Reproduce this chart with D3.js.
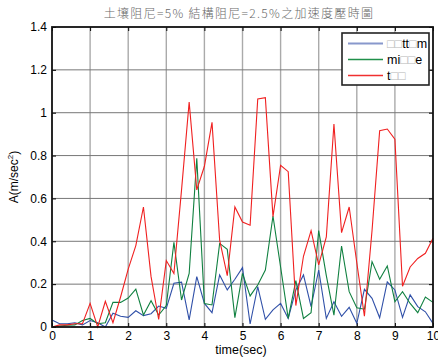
<!DOCTYPE html>
<html>
<head>
<meta charset="utf-8">
<script src="https://cdn.jsdelivr.net/npm/d3@7"></script>
<style>
    body { margin: 0; background: #fff; }
    svg { display: block; font-family: "Liberation Sans", Arial, sans-serif; }
</style>
</head>
<body>
<svg id="chart" width="438" height="360"></svg>
<script>
/*global d3*/

var timeSec = [0, 0.2, 0.4, 0.6, 0.8, 1, 1.2, 1.4, 1.6, 1.8, 2, 2.2, 2.4, 2.6, 2.8, 3, 3.2, 3.4, 3.6, 3.8,
    4, 4.2, 4.4, 4.6, 4.8, 5, 5.2, 5.4, 5.6, 5.8, 6, 6.2, 6.4, 6.6, 6.8, 7, 7.2, 7.4, 7.6, 7.8,
    8, 8.2, 8.4, 8.6, 8.8, 9, 9.2, 9.4, 9.6, 9.8, 10];

var bottomAcc = [0.033, 0.015, 0.015, 0.02, 0.01, 0.03, 0.02, 0.0, 0.064, 0.05, 0.045, 0.076, 0.053, 0.062, 0.098,
    0.087, 0.204, 0.209, 0.033, 0.235, 0.11, 0.067, 0.243, 0.173, 0.223, 0.277, 0.014, 0.188, 0.036, 0.08,
    0.11, 0.04, 0.173, 0.243, 0.095, 0.266, 0.04, 0.118, 0.05, 0.092, 0.017, 0.176, 0.134, 0.043, 0.21,
    0.173, 0.045, 0.15, 0.095, 0.071, 0.017];

var middleAcc = [0.0, 0.005, 0.008, 0.01, 0.03, 0.04, 0.015, 0.02, 0.115, 0.115, 0.135, 0.177, 0.056, 0.123, 0.056,
    0.10, 0.395, 0.126, 0.25, 0.787, 0.11, 0.103, 0.39, 0.363, 0.044, 0.25, 0.145, 0.196, 0.266, 0.518,
    0.28, 0.04, 0.216, 0.04, 0.067, 0.45, 0.24, 0.055, 0.378, 0.165, 0.09, 0.083, 0.305, 0.223, 0.285,
    0.118, 0.165, 0.11, 0.067, 0.14, 0.115];

var topAcc = [0.0, 0.01, 0.01, 0.015, 0.015, 0.11, 0.0, 0.12, 0.02, 0.14, 0.27, 0.38, 0.56, 0.235, 0.035,
    0.31, 0.25, 0.64, 1.05, 0.64, 0.75, 0.955, 0.405, 0.24, 0.56, 0.49, 0.475, 1.064, 1.07, 0.515,
    0.755, 0.725, 0.10, 0.33, 0.45, 0.29, 0.42, 0.947, 0.44, 0.56, 0.30, 0.05, 0.45, 0.916, 0.924,
    0.876, 0.19, 0.28, 0.32, 0.344, 0.414];

var xTicks = [0, 1, 2, 3, 4, 5, 6, 7, 8, 9, 10];
var yTicks = [0, 0.2, 0.4, 0.6, 0.8, 1, 1.2, 1.4];

// legend text as shown (broken glyphs drawn as boxes)
var legendLabels = [['□', '□', 'tt', '□', 'm'], ['mi', '□', '□', 'e'], ['t', '□', '□']];

(function (d3) {
    'use strict';

    var svg = d3.select('#chart'),
        left = 52, right = 433, top = 27, bottom = 327,
        x = d3.scaleLinear().domain([0, 10]).range([left, right]),
        y = d3.scaleLinear().domain([0, 1.4]).range([bottom, top]),
        series = [
            {values: bottomAcc, color: '#3050a8', legendColor: '#8898cc'},
            {values: middleAcc, color: '#108040', legendColor: '#20904a'},
            {values: topAcc, color: '#f02020', legendColor: '#f03030'}
        ],
        line,
        grid,
        legend;

    // grid
    grid = svg.append('g');
    grid.selectAll('.vgrid')
        .data(xTicks.slice(1, -1))
        .enter()
      .append('line')
        .attr('x1', x).attr('x2', x)
        .attr('y1', top).attr('y2', bottom)
        .attr('stroke', '#aaa')
        .attr('stroke-width', 1.4);
    grid.selectAll('.hgrid')
        .data(yTicks.slice(1, -1))
        .enter()
      .append('line')
        .attr('x1', left).attr('x2', right)
        .attr('y1', y).attr('y2', y)
        .attr('stroke', '#777')
        .attr('stroke-width', 1);

    // axes with inward ticks
    svg.append('g')
        .attr('transform', 'translate(0,' + bottom + ')')
        .call(d3.axisBottom(x).tickValues(xTicks).tickFormat(d3.format('d'))
            .tickSizeInner(-4).tickSizeOuter(0).tickPadding(4));
    svg.append('g')
        .attr('transform', 'translate(0,' + top + ')')
        .call(d3.axisTop(x).tickValues(xTicks).tickFormat('')
            .tickSizeInner(-4).tickSizeOuter(0));
    svg.append('g')
        .attr('transform', 'translate(' + left + ',0)')
        .call(d3.axisLeft(y).tickValues(yTicks).tickFormat(d3.format('~g'))
            .tickSizeInner(-4).tickSizeOuter(0).tickPadding(5));
    svg.append('g')
        .attr('transform', 'translate(' + right + ',0)')
        .call(d3.axisRight(y).tickValues(yTicks).tickFormat('')
            .tickSizeInner(-4).tickSizeOuter(0));

    svg.selectAll('.domain').remove();
    svg.selectAll('.tick line').attr('stroke', '#000');
    svg.selectAll('.tick text')
        .attr('fill', '#000')
        .style('font-size', '12px')
        .style('font-family', '"Liberation Sans", Arial, sans-serif');

    // lines
    line = d3.line()
        .x(function (d, i) { return x(timeSec[i]); })
        .y(function (d) { return y(d); });

    svg.append('g')
        .selectAll('path')
        .data(series)
        .enter()
      .append('path')
        .attr('d', function (d) { return line(d.values); })
        .attr('fill', 'none')
        .attr('stroke', function (d) { return d.color; })
        .attr('stroke-width', 1.1)
        .attr('stroke-linejoin', 'miter');

    // frame
    svg.append('rect')
        .attr('x', left).attr('y', top)
        .attr('width', right - left).attr('height', bottom - top)
        .attr('fill', 'none')
        .attr('stroke', '#111')
        .attr('stroke-width', 1.8);

    // legend
    legend = svg.append('g');
    legend.append('rect')
        .attr('x', 342).attr('y', 33)
        .attr('width', 87).attr('height', 52)
        .attr('fill', '#fff')
        .attr('stroke', '#222')
        .attr('stroke-width', 1.6);
    series.forEach(function (s, i) {
        var ly = 43.5 + i * 16,
            txt;
        legend.append('line')
            .attr('x1', 348).attr('x2', 383)
            .attr('y1', ly).attr('y2', ly)
            .attr('stroke', s.legendColor)
            .attr('stroke-width', i === 0 ? 2 : 1.3);
        txt = legend.append('text')
            .attr('x', 387).attr('y', ly + 4.5)
            .style('font-size', '12.5px')
            .attr('fill', '#000');
        legendLabels[i].forEach(function (part) {
            txt.append('tspan')
                .attr('fill', part === '□' ? '#b8b8b8' : '#000')
                .text(part);
        });
    });

    // labels
    svg.append('text')
        .attr('x', 239).attr('y', 18)
        .attr('text-anchor', 'middle')
        .attr('fill', '#6a6a6a')
        .style('font-family', '"Noto Sans CJK TC", "Liberation Sans", sans-serif')
        .style('font-size', '12px')
        .style('font-weight', 300)
        .style('letter-spacing', '1.3px')
        .text('土壤阻尼=5% 結構阻尼=2.5%之加速度壓時圖');

    svg.append('text')
        .attr('x', 241).attr('y', 354)
        .attr('text-anchor', 'middle')
        .style('font-size', '12.5px')
        .attr('fill', '#000')
        .text('time(sec)');

    svg.append('text')
        .attr('transform', 'translate(18,177) rotate(-90)')
        .attr('text-anchor', 'middle')
        .style('font-size', '12px')
        .attr('fill', '#000')
        .call(function (t) {
            t.append('tspan').text('A(m/sec');
            t.append('tspan').attr('dy', -5).style('font-size', '8px').text('2');
            t.append('tspan').attr('dy', 5).text(')');
        });

}(window.d3));
</script>
</body>
</html>
